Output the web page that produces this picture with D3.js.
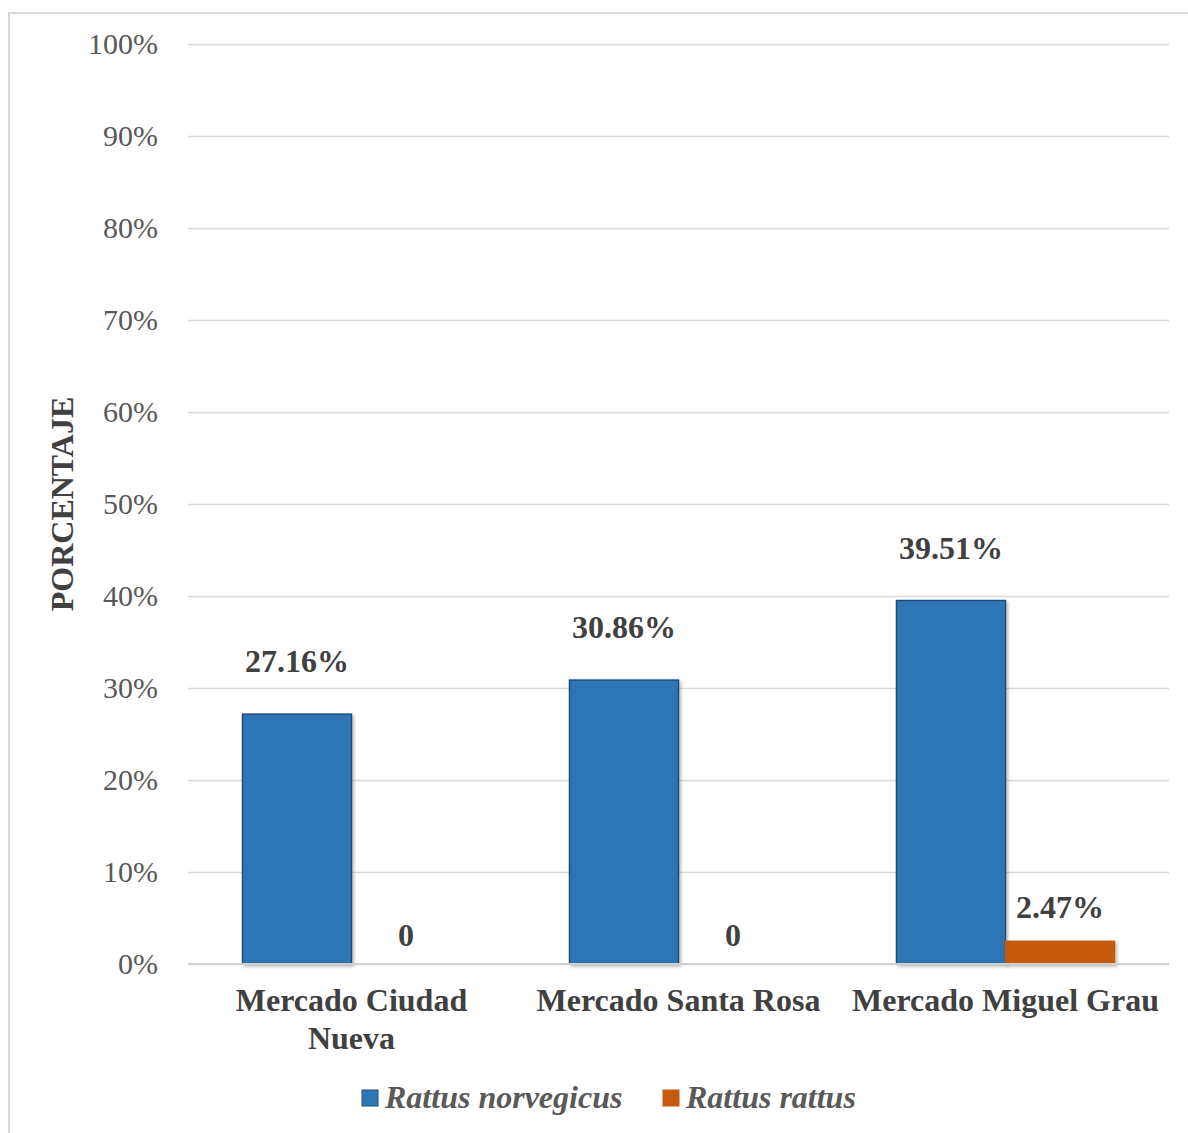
<!DOCTYPE html>
<html>
<head>
<meta charset="utf-8">
<script src="https://cdn.jsdelivr.net/npm/d3@7"></script>
<style>
  html, body { margin: 0; padding: 0; background: #fff; }
  svg { display: block; }
</style>
</head>
<body>
<svg id="chart" width="1188" height="1133"></svg>
<script>
// Market categories (first entry wraps onto two lines)
const categories = [["Mercado Ciudad", "Nueva"], ["Mercado Santa Rosa"], ["Mercado Miguel Grau"]];
const seriesNames = ["Rattus norvegicus", "Rattus rattus"];
const norvegicus = [27.16, 30.86, 39.51];
const rattus = [0, 0, 2.47];
const rattusLabels = ["0", "0", "2.47%"];
const yTicks = [0, 10, 20, 30, 40, 50, 60, 70, 80, 90, 100];

const colors = ["#2e75b6", "#c55a11"];
const strokes = ["#1f4e79", "#c55a11"];
const serif = "'Liberation Serif', 'Times New Roman', serif";

const svg = d3.select("#chart");
const W = 1188, H = 1133;
const plot = { left: 188, right: 1169, top: 44, bottom: 964 };

// Outer chart border
svg.append("rect")
  .attr("x", 9).attr("y", 13)
  .attr("width", W).attr("height", H)
  .attr("fill", "#fff")
  .attr("stroke", "#d9d9d9").attr("stroke-width", 2);

const y = d3.scaleLinear().domain([0, 100]).range([plot.bottom, plot.top]);
const x0 = d3.scaleBand().domain(d3.range(categories.length))
  .range([plot.left, plot.right]).paddingInner(1 / 3).paddingOuter(1 / 6);
const x1 = d3.scaleBand().domain([0, 1]).range([0, x0.bandwidth()]);

// Horizontal gridlines and tick labels via a left axis
const yAxis = d3.axisLeft(y).tickValues(yTicks)
  .tickFormat(d => d + "%")
  .tickSize(-(plot.right - plot.left)).tickPadding(30);
const gy = svg.append("g").attr("transform", `translate(${plot.left},0)`).call(yAxis);
gy.select(".domain").remove();
gy.selectAll(".tick line").attr("stroke", "#d9d9d9").attr("stroke-width", 1.5);
gy.selectAll(".tick text")
  .attr("fill", "#595959")
  .style("font-family", serif)
  .style("font-size", "30px");

// Bars with a soft drop shadow
const defs = svg.append("defs");
const f = defs.append("filter").attr("id", "shadow")
  .attr("x", "-10%").attr("y", "-10%").attr("width", "130%").attr("height", "130%");
f.append("feDropShadow").attr("dx", 2).attr("dy", 2).attr("stdDeviation", 1.5)
  .attr("flood-color", "#000").attr("flood-opacity", 0.25);

const series = [norvegicus, rattus];
series.forEach((vals, si) => {
  svg.append("g").selectAll("rect")
    .data(vals.map((v, i) => ({ v, i })).filter(d => d.v > 0))
    .join("rect")
    .attr("x", d => x0(d.i) + x1(si))
    .attr("y", d => y(d.v))
    .attr("width", x1.bandwidth())
    .attr("height", d => y(0) - y(d.v))
    .attr("fill", colors[si])
    .attr("stroke", strokes[si])
    .attr("stroke-width", 1.5)
    .attr("filter", "url(#shadow)");
});

// Baseline
svg.append("line")
  .attr("x1", plot.left).attr("x2", plot.right)
  .attr("y1", y(0)).attr("y2", y(0))
  .attr("stroke", "#d0d0d0").attr("stroke-width", 2);

// Data labels
const labelStyle = sel => sel
  .attr("text-anchor", "middle")
  .attr("fill", "#404040")
  .style("font-family", serif)
  .style("font-weight", "bold")
  .style("font-size", "32px");

svg.append("g").selectAll("text")
  .data(norvegicus.map((v, i) => ({ v, i })))
  .join("text")
  .attr("x", d => x0(d.i) + x1(0) + x1.bandwidth() / 2)
  .attr("y", d => y(d.v) - 42)
  .text(d => d.v.toFixed(2) + "%")
  .call(labelStyle);

svg.append("g").selectAll("text")
  .data(rattus.map((v, i) => ({ v, i })))
  .join("text")
  .attr("x", d => x0(d.i) + x1(1) + x1.bandwidth() / 2)
  .attr("y", d => y(d.v) - (d.v > 0 ? 23 : 18))
  .text(d => rattusLabels[d.i])
  .call(labelStyle);

// Category labels
const xl = svg.append("g");
categories.forEach((lines, i) => {
  const cx = x0(i) + x0.bandwidth() / 2;
  const t = xl.append("text")
    .attr("x", cx)
    .attr("y", 1011)
    .call(labelStyle);
  lines.forEach((ln, k) => {
    t.append("tspan")
      .attr("x", cx)
      .attr("dy", k === 0 ? 0 : 38)
      .text(ln);
  });
});

// Axis title
svg.append("text")
  .attr("transform", `translate(73,${(plot.top + plot.bottom) / 2}) rotate(-90)`)
  .attr("text-anchor", "middle")
  .attr("fill", "#404040")
  .style("font-family", serif)
  .style("font-weight", "bold")
  .style("font-size", "32px")
  .text("PORCENTAJE");

// Legend
const legendX = [362, 663];
const lg = svg.append("g");
seriesNames.forEach((name, si) => {
  lg.append("rect")
    .attr("x", legendX[si]).attr("y", 1090)
    .attr("width", 16).attr("height", 16)
    .attr("fill", colors[si])
    .attr("stroke", strokes[si]).attr("stroke-width", 1);
  lg.append("text")
    .attr("x", legendX[si] + 23).attr("y", 1108)
    .attr("fill", "#595959")
    .style("font-family", serif)
    .style("font-weight", "bold")
    .style("font-style", "italic")
    .style("font-size", "32px")
    .text(name);
});
</script>
</body>
</html>
